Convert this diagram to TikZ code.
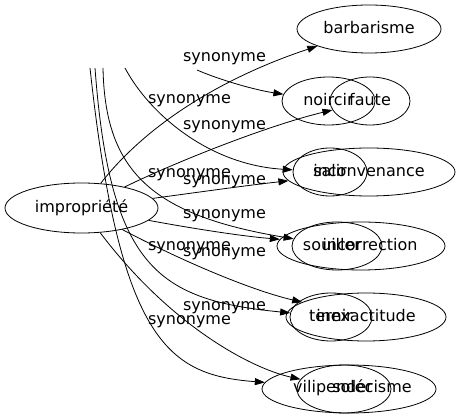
\documentclass[tikz,border=0pt]{standalone}
\usepackage{fontspec}
\setmainfont{DejaVu Sans}
\usetikzlibrary{arrows.meta,shapes.geometric}

\begin{document}
\begin{tikzpicture}[x=1pt,y=-1pt,>={Triangle[length=10pt,width=7pt]},line width=0.8pt,
	word/.style={draw,ellipse,inner sep=0pt,minimum height=48pt,text height=12pt,text depth=2pt},
	every label/.style={inner sep=0pt,text height=12pt,text depth=2pt},
	syn/.style={anchor=base,inner sep=0pt},
	font=\fontsize{16}{19}\selectfont]
	\useasboundingbox (0,0) rectangle (460,419);
	
	%centre
	\node[word,minimum width=153pt,minimum height=50pt] (impropriete) at (81.5,208) {impropriété};
	
	%right column
	\node[word,minimum width=144pt] (barbarisme) at (369,29) {barbarisme};
	\node[word,minimum width=93pt] (noircir) at (328.5,101) {noircir};
	\node[word,minimum width=80pt] (faute) at (370,101) {faute};
	\node[word,minimum width=172pt] (inconvenance) at (369,172) {inconvenance};
	\node[word,minimum width=74pt] (salir) at (330,172) {salir};
	\node[word,minimum width=168pt,label={[xshift=9pt]center:incorrection}] (incorrection) at (361,246) {};
	\node[word,minimum width=90pt,label={[xshift=-5pt]center:souiller}] (souiller) at (337,246) {};
	\node[word,minimum width=160pt] (inexactitude) at (366,317) {inexactitude};
	\node[word,minimum width=82pt] (ternir) at (331,317) {ternir};
	\node[word,minimum width=174pt,label={[xshift=-16pt,yshift=2pt]center:vilipender}] (vilipender) at (349,389) {};
	\node[word,minimum width=94pt,label={[xshift=28pt,yshift=2pt]center:solécisme}] (solecisme) at (344,389) {};
	
	%cut edge ends at the top
	\coordinate (vilipender-in) at (90,68);
	\coordinate (ternir-in) at (95,68);
	\coordinate (souiller-in) at (103,68);
	\coordinate (salir-in) at (125,68);
	\coordinate (noircir-in) at (197,70);
	
	%impropriete--synonyms
	\draw[->] (impropriete) .. controls (150,120) and (230,75) .. (barbarisme);
	\draw[->] (impropriete) .. controls (180,160) and (270,125) .. (faute);
	\draw[->] (impropriete) .. controls (200,192) and (250,185) .. (inconvenance);
	\draw[->] (impropriete) .. controls (190,228) and (240,236) .. (incorrection);
	\draw[->] (impropriete) .. controls (180,260) and (250,290) .. (inexactitude);
	\draw[->] (impropriete) .. controls (170,325) and (250,368) .. (solecisme);
	
	%top--synonyms
	\draw[->] (noircir-in) .. controls (220,80) and (255,90) .. (noircir);
	\draw[->] (salir-in) .. controls (150,115) and (210,165) .. (salir);
	\draw[->] (souiller-in) .. controls (105,170) and (150,215) .. (souiller);
	\draw[->] (ternir-in) .. controls (110,270) and (160,300) .. (ternir);
	\draw[->] (vilipender-in) .. controls (120,345) and (170,375) .. (vilipender);
	
	%labels
	\node[syn] (syn-noircir) at (224.5,62) {synonyme};
	\node[syn] (syn-barbarisme) at (189.5,104) {synonyme};
	\node[syn] (syn-faute) at (224.5,130) {synonyme};
	\node[syn] (syn-salir) at (189.5,178) {synonyme};
	\node[syn] (syn-inconvenance) at (224.5,185) {synonyme};
	\node[syn] (syn-souiller) at (224.5,219) {synonyme};
	\node[syn] (syn-inexactitude) at (189.5,251) {synonyme};
	\node[syn] (syn-incorrection) at (224.5,257) {synonyme};
	\node[syn] (syn-ternir) at (224.5,311) {synonyme};
	\node[syn] (syn-solecisme) at (189.5,324) {synonyme};
\end{tikzpicture}
\end{document}
